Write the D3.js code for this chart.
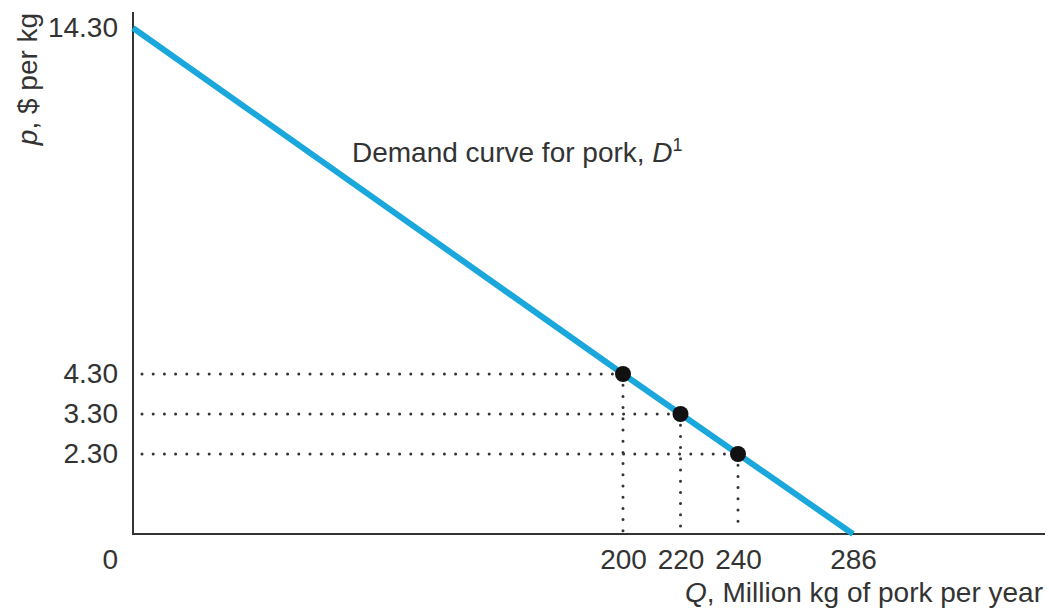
<!DOCTYPE html>
<html>
<head>
<meta charset="utf-8">
<script src="https://cdn.jsdelivr.net/npm/d3@7"></script>
<style>
  html, body { margin: 0; padding: 0; background: #fff; }
  svg { display: block; }
  text { font-family: "Liberation Sans", Arial, Helvetica, sans-serif; fill: #333; }
</style>
</head>
<body>
<svg id="chart" width="1049" height="615"></svg>
<script>
// ---- Data ----
const quantities = [200, 220, 240];          // Million kg of pork per year
const prices = [4.30, 3.30, 2.30];           // $ per kg
const demandQ = [0, 200, 220, 240, 286];     // points on demand curve D1
const demandP = [14.30, 4.30, 3.30, 2.30, 0];
const xTickValues = [200, 220, 240, 286];
const yTickValues = [14.30, 4.30, 3.30, 2.30];
const xAxisMax = 362;

const svg = d3.select("#chart");

// Diagram is not drawn to scale, so use piecewise-linear scales
const x = d3.scaleLinear()
  .domain([0, 200, 240, 286, xAxisMax])
  .range([133, 623, 738, 853, 1045]);
const y = d3.scaleLinear()
  .domain([0, 2.30, 4.30, 14.30])
  .range([534, 454, 374, 28]);

const ink = "#333";

// Axis lines
svg.append("line").attr("x1", x(0)).attr("x2", x(0)).attr("y1", 12).attr("y2", y(0) + 1)
  .attr("stroke", ink).attr("stroke-width", 2);
svg.append("line").attr("x1", x(0) - 1).attr("x2", x(xAxisMax)).attr("y1", y(0)).attr("y2", y(0))
  .attr("stroke", ink).attr("stroke-width", 2);

// Axis tick labels through d3 axes
const xAxis = svg.append("g").attr("transform", `translate(0,${y(0)})`)
  .call(d3.axisBottom(x).tickValues(xTickValues).tickSize(0).tickPadding(15).tickFormat(d3.format("d")));
xAxis.select(".domain").remove();
xAxis.selectAll("text").style("font-size", "28px").attr("fill", ink)
  .style("font-family", "'Liberation Sans', Arial, sans-serif");

const yAxis = svg.append("g").attr("transform", `translate(${x(0)},0)`)
  .call(d3.axisLeft(y).tickValues(yTickValues).tickSize(0).tickPadding(15).tickFormat(d3.format(".2f")));
yAxis.select(".domain").remove();
yAxis.selectAll("text").style("font-size", "28px").attr("fill", ink)
  .style("font-family", "'Liberation Sans', Arial, sans-serif");

// Origin label
svg.append("text").attr("x", 118).attr("y", 569).attr("text-anchor", "end")
  .style("font-size", "28px").text("0");

// Dotted guide lines
const pts = quantities.map((q, i) => ({ q, p: prices[i] }));
const guides = svg.append("g").attr("stroke", ink).attr("stroke-width", 3)
  .attr("stroke-linecap", "round").attr("stroke-dasharray", "0,11.2");
guides.selectAll("line.h").data(pts).enter().append("line")
  .attr("x1", x(0) + 9).attr("x2", d => x(d.q)).attr("y1", d => y(d.p)).attr("y2", d => y(d.p));
guides.selectAll("line.v").data(pts).enter().append("line")
  .attr("x1", d => x(d.q)).attr("x2", d => x(d.q)).attr("y1", d => y(d.p)).attr("y2", y(0) - 3);

// Demand curve
const line = d3.line().x(d => x(d[0])).y(d => y(d[1]));
svg.append("path")
  .datum(demandQ.map((q, i) => [q, demandP[i]]))
  .attr("d", line)
  .attr("fill", "none")
  .attr("stroke", "#1aa7dc")
  .attr("stroke-width", 6)
  .attr("stroke-linejoin", "round");

// Points
svg.selectAll("circle.pt").data(pts).enter().append("circle")
  .attr("cx", d => x(d.q)).attr("cy", d => y(d.p)).attr("r", 8).attr("fill", "#111");

// Curve label
const lab = svg.append("text").attr("x", 352).attr("y", 162).style("font-size", "28px");
lab.append("tspan").text("Demand curve for pork, ");
lab.append("tspan").style("font-style", "italic").text("D");
lab.append("tspan").attr("dy", -11).style("font-size", "18px").text("1");

// Axis titles
const xt = svg.append("text").attr("x", 1043).attr("y", 602).attr("text-anchor", "end")
  .style("font-size", "28px");
xt.append("tspan").style("font-style", "italic").text("Q");
xt.append("tspan").text(", Million kg of pork per year");

const yt = svg.append("text").attr("transform", "translate(37,79) rotate(-90)")
  .attr("text-anchor", "middle").style("font-size", "28px");
yt.append("tspan").style("font-style", "italic").text("p");
yt.append("tspan").text(", $ per kg");
</script>
</body>
</html>
